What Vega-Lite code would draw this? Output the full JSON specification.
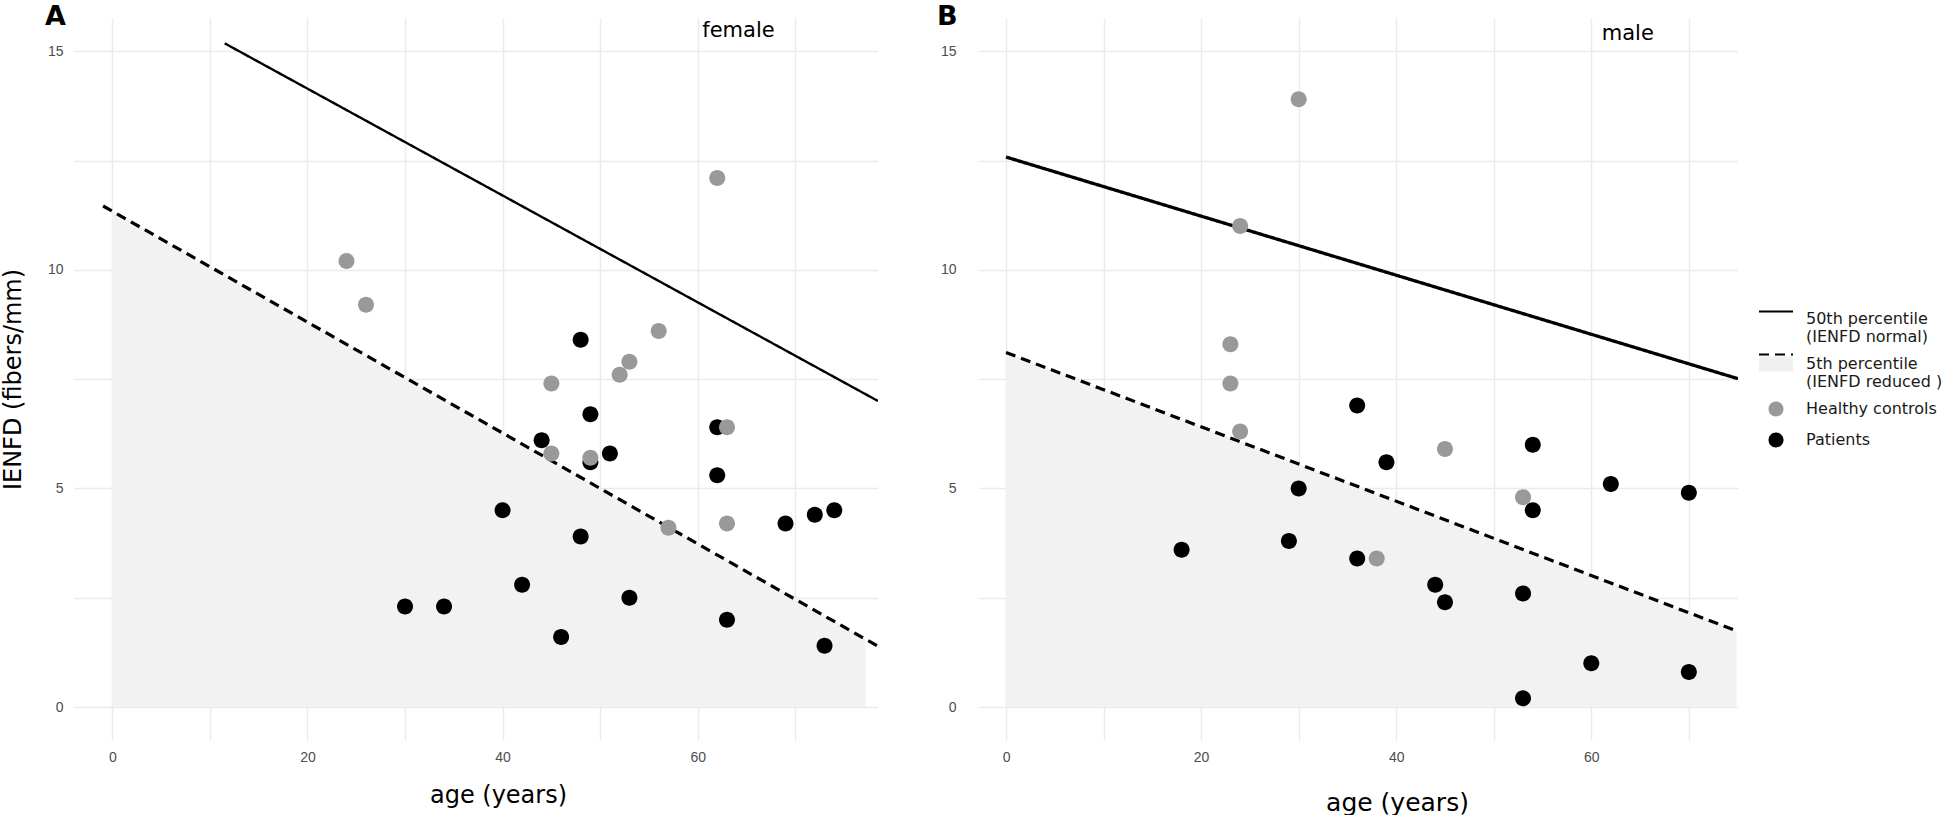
{
  "$schema": "https://vega.github.io/schema/vega-lite/v6.json",
  "padding": {"left": 1, "top": 3, "right": 0, "bottom": 0},
  "spacing": 59,
  "background": "white",
  "config": {
    "view": {"stroke": null},
    "axis": {"domain": false, "ticks": false, "tickSize": 0, "grid": true, "gridColor": "#ebebeb", "gridWidth": 1.5, "labelFont": "Liberation Sans", "labelFontSize": 14, "labelColor": "#4d4d4d", "titleFont": "DejaVu Sans", "titleFontWeight": "normal", "titleColor": "#000000", "labelOverlap": false},
    "title": {"font": "DejaVu Sans", "fontSize": 27, "fontWeight": "bold", "color": "#000000", "anchor": "start", "frame": "group", "baseline": "alphabetic", "offset": -13}
  },
  "datasets": {
    "points": [
      {"sex": "female", "group": "Patients", "age": 48, "ienfd": 8.4},
      {"sex": "female", "group": "Patients", "age": 49, "ienfd": 6.7},
      {"sex": "female", "group": "Patients", "age": 44, "ienfd": 6.1},
      {"sex": "female", "group": "Patients", "age": 51, "ienfd": 5.8},
      {"sex": "female", "group": "Patients", "age": 49, "ienfd": 5.6},
      {"sex": "female", "group": "Patients", "age": 62, "ienfd": 6.4},
      {"sex": "female", "group": "Patients", "age": 62, "ienfd": 5.3},
      {"sex": "female", "group": "Patients", "age": 40, "ienfd": 4.5},
      {"sex": "female", "group": "Patients", "age": 48, "ienfd": 3.9},
      {"sex": "female", "group": "Patients", "age": 42, "ienfd": 2.8},
      {"sex": "female", "group": "Patients", "age": 30, "ienfd": 2.3},
      {"sex": "female", "group": "Patients", "age": 34, "ienfd": 2.3},
      {"sex": "female", "group": "Patients", "age": 46, "ienfd": 1.6},
      {"sex": "female", "group": "Patients", "age": 53, "ienfd": 2.5},
      {"sex": "female", "group": "Patients", "age": 63, "ienfd": 2.0},
      {"sex": "female", "group": "Patients", "age": 69, "ienfd": 4.2},
      {"sex": "female", "group": "Patients", "age": 72, "ienfd": 4.4},
      {"sex": "female", "group": "Patients", "age": 74, "ienfd": 4.5},
      {"sex": "female", "group": "Patients", "age": 73, "ienfd": 1.4},
      {"sex": "female", "group": "Healthy controls", "age": 24, "ienfd": 10.2},
      {"sex": "female", "group": "Healthy controls", "age": 26, "ienfd": 9.2},
      {"sex": "female", "group": "Healthy controls", "age": 62, "ienfd": 12.1},
      {"sex": "female", "group": "Healthy controls", "age": 56, "ienfd": 8.6},
      {"sex": "female", "group": "Healthy controls", "age": 53, "ienfd": 7.9},
      {"sex": "female", "group": "Healthy controls", "age": 52, "ienfd": 7.6},
      {"sex": "female", "group": "Healthy controls", "age": 45, "ienfd": 7.4},
      {"sex": "female", "group": "Healthy controls", "age": 45, "ienfd": 5.8},
      {"sex": "female", "group": "Healthy controls", "age": 49, "ienfd": 5.7},
      {"sex": "female", "group": "Healthy controls", "age": 63, "ienfd": 6.4},
      {"sex": "female", "group": "Healthy controls", "age": 63, "ienfd": 4.2},
      {"sex": "female", "group": "Healthy controls", "age": 57, "ienfd": 4.1},
      {"sex": "male", "group": "Patients", "age": 36, "ienfd": 6.9},
      {"sex": "male", "group": "Patients", "age": 39, "ienfd": 5.6},
      {"sex": "male", "group": "Patients", "age": 30, "ienfd": 5.0},
      {"sex": "male", "group": "Patients", "age": 54, "ienfd": 6.0},
      {"sex": "male", "group": "Patients", "age": 54, "ienfd": 4.5},
      {"sex": "male", "group": "Patients", "age": 62, "ienfd": 5.1},
      {"sex": "male", "group": "Patients", "age": 70, "ienfd": 4.9},
      {"sex": "male", "group": "Patients", "age": 18, "ienfd": 3.6},
      {"sex": "male", "group": "Patients", "age": 29, "ienfd": 3.8},
      {"sex": "male", "group": "Patients", "age": 36, "ienfd": 3.4},
      {"sex": "male", "group": "Patients", "age": 44, "ienfd": 2.8},
      {"sex": "male", "group": "Patients", "age": 45, "ienfd": 2.4},
      {"sex": "male", "group": "Patients", "age": 53, "ienfd": 2.6},
      {"sex": "male", "group": "Patients", "age": 60, "ienfd": 1.0},
      {"sex": "male", "group": "Patients", "age": 70, "ienfd": 0.8},
      {"sex": "male", "group": "Patients", "age": 53, "ienfd": 0.2},
      {"sex": "male", "group": "Healthy controls", "age": 30, "ienfd": 13.9},
      {"sex": "male", "group": "Healthy controls", "age": 24, "ienfd": 11.0},
      {"sex": "male", "group": "Healthy controls", "age": 23, "ienfd": 8.3},
      {"sex": "male", "group": "Healthy controls", "age": 23, "ienfd": 7.4},
      {"sex": "male", "group": "Healthy controls", "age": 24, "ienfd": 6.3},
      {"sex": "male", "group": "Healthy controls", "age": 45, "ienfd": 5.9},
      {"sex": "male", "group": "Healthy controls", "age": 53, "ienfd": 4.8},
      {"sex": "male", "group": "Healthy controls", "age": 38, "ienfd": 3.4}
    ],
    "lines": [
      {"sex": "female", "pct": "p50", "age": 11.52, "ienfd": 15.18},
      {"sex": "female", "pct": "p50", "age": 78.48, "ienfd": 7.0},
      {"sex": "female", "pct": "p5", "age": -0.95, "ienfd": 11.46},
      {"sex": "female", "pct": "p5", "age": 78.48, "ienfd": 1.39},
      {"sex": "male", "pct": "p50", "age": 0, "ienfd": 12.58},
      {"sex": "male", "pct": "p50", "age": 75.04, "ienfd": 7.51},
      {"sex": "male", "pct": "p5", "age": 0, "ienfd": 8.11},
      {"sex": "male", "pct": "p5", "age": 75.04, "ienfd": 1.73}
    ],
    "fill": [
      {"sex": "female", "age": 0, "ienfd": 11.34},
      {"sex": "female", "age": 77.2, "ienfd": 1.55},
      {"sex": "male", "age": 0, "ienfd": 8.11},
      {"sex": "male", "age": 74.9, "ienfd": 1.74}
    ],
    "labels": [
      {"sex": "female", "age": 64.18, "ienfd": 15.47, "text": "female"},
      {"sex": "male", "age": 63.74, "ienfd": 15.39, "text": "male"}
    ]
  },
  "resolve": {"scale": {"fill": "independent", "shape": "independent", "strokeDash": "independent"}, "legend": {"fill": "independent", "shape": "independent", "strokeDash": "independent"}},
  "hconcat": [
    {
      "width": 804,
      "height": 722,
      "title": {"text": "A", "dx": -29},
      "encoding": {
        "x": {"field": "age", "type": "quantitative", "scale": {"domain": [-3.93, 78.48], "nice": false, "zero": false},
              "axis": {"values": [0, 10, 20, 30, 40, 50, 60, 70], "labelExpr": "datum.value % 20 === 0 ? datum.label : ''", "labelPadding": 10, "title": "age (years)", "titleFontSize": 24, "titlePadding": 19, "titleX": 424, "titleAlign": "center"}},
        "y": {"field": "ienfd", "type": "quantitative", "scale": {"domain": [-0.753, 15.76], "nice": false, "zero": false},
              "axis": {"values": [0, 2.5, 5, 7.5, 10, 12.5, 15], "labelExpr": "datum.value % 5 === 0 ? datum.label : ''", "labelPadding": 11, "title": "IENFD (fibers/mm)", "titleFontSize": 24, "titlePadding": 22}}
      },
      "layer": [
        {"data": {"name": "fill"}, "transform": [{"filter": "datum.sex == 'female'"}],
         "mark": {"type": "area", "color": "#f2f2f2", "clip": true},
         "encoding": {"y2": {"datum": 0}}},
        {"data": {"name": "lines"}, "transform": [{"filter": "datum.sex == 'female' && datum.pct == 'p50'"}],
         "mark": {"type": "line", "color": "#000000", "strokeWidth": 2.4, "clip": true},
         "encoding": {"strokeDash": {"field": "pct", "type": "nominal", "scale": {"domain": ["p50", "p5"], "range": [[1, 0], [10, 6]]}, "legend": null}}},
        {"data": {"name": "lines"}, "transform": [{"filter": "datum.sex == 'female' && datum.pct == 'p5'"}],
         "mark": {"type": "line", "color": "#000000", "strokeWidth": 3.2, "clip": true},
         "encoding": {"strokeDash": {"field": "pct", "type": "nominal", "scale": {"domain": ["p50", "p5"], "range": [[1, 0], [10, 6]]}, "legend": null}}},
        {"data": {"name": "points"}, "transform": [{"filter": "datum.sex == 'female'"}],
         "mark": {"type": "point", "filled": true, "opacity": 1, "size": 1316},
         "encoding": {
           "fill": {"field": "group", "type": "nominal", "scale": {"domain": ["p50", "p5", "Healthy controls", "Patients"], "range": ["#ffffff", "#f0f0f0", "#999999", "#000000"]}, "legend": null},
           "shape": {"field": "group", "type": "nominal", "scale": {"domain": ["p50", "p5", "Healthy controls", "Patients"], "range": ["M-1,-0.441L1,-0.441L1,0.441L-1,0.441Z", "M-1,-0.441L1,-0.441L1,0.441L-1,0.441Z", "M0.441,0A0.441,0.441,0,1,1,-0.441,0A0.441,0.441,0,1,1,0.441,0Z", "M0.441,0A0.441,0.441,0,1,1,-0.441,0A0.441,0.441,0,1,1,0.441,0Z"]}, "legend": null}
         }},
        {"data": {"name": "labels"}, "transform": [{"filter": "datum.sex == 'female'"}],
         "mark": {"type": "text", "font": "DejaVu Sans", "fontSize": 21, "color": "#000000", "align": "center", "baseline": "middle"},
         "encoding": {"text": {"field": "text", "type": "nominal"}}}
      ]
    },
    {
      "width": 759,
      "height": 722,
      "title": {"text": "B", "dx": -42},
      "encoding": {
        "x": {"field": "age", "type": "quantitative", "scale": {"domain": [-2.77, 75.04], "nice": false, "zero": false},
              "axis": {"values": [0, 10, 20, 30, 40, 50, 60, 70], "labelExpr": "datum.value % 20 === 0 ? datum.label : ''", "labelPadding": 10, "title": "age (years)", "titleFontSize": 25, "titlePadding": 26, "titleX": 418, "titleAlign": "center"}},
        "y": {"field": "ienfd", "type": "quantitative", "scale": {"domain": [-0.753, 15.76], "nice": false, "zero": false},
              "axis": {"values": [0, 2.5, 5, 7.5, 10, 12.5, 15], "labelExpr": "datum.value % 5 === 0 ? datum.label : ''", "labelPadding": 23, "title": null}}
      },
      "layer": [
        {"data": {"name": "fill"}, "transform": [{"filter": "datum.sex == 'male'"}],
         "mark": {"type": "area", "color": "#f2f2f2", "clip": true},
         "encoding": {"y2": {"datum": 0}}},
        {"data": {"name": "lines"}, "transform": [{"filter": "datum.sex == 'male' && datum.pct == 'p50'"}],
         "mark": {"type": "line", "color": "#000000", "strokeWidth": 3.3, "clip": true},
         "encoding": {"strokeDash": {"field": "pct", "type": "nominal", "scale": {"domain": ["p50", "p5"], "range": [[1, 0], [10, 6]]},
           "legend": {"orient": "none", "legendX": 779, "legendY": 275.5, "title": null, "padding": 0, "symbolType": "stroke", "symbolSize": 1156, "symbolStrokeWidth": 2, "symbolStrokeColor": "#000000", "labelExpr": "''", "labelFontSize": 1, "rowPadding": 21, "zindex": 2}}}},
        {"data": {"name": "lines"}, "transform": [{"filter": "datum.sex == 'male' && datum.pct == 'p5'"}],
         "mark": {"type": "line", "color": "#000000", "strokeWidth": 3.2, "clip": true},
         "encoding": {"strokeDash": {"field": "pct", "type": "nominal", "scale": {"domain": ["p50", "p5"], "range": [[1, 0], [10, 6]]},
           "legend": {"orient": "none", "legendX": 779, "legendY": 275.5, "title": null, "padding": 0, "symbolType": "stroke", "symbolSize": 1156, "symbolStrokeWidth": 2, "symbolStrokeColor": "#000000", "labelExpr": "''", "labelFontSize": 1, "rowPadding": 21, "zindex": 2}}}},
        {"data": {"name": "points"}, "transform": [{"filter": "datum.sex == 'male'"}],
         "mark": {"type": "point", "filled": true, "opacity": 1, "size": 1316},
         "encoding": {
           "fill": {"field": "group", "type": "nominal", "scale": {"domain": ["p50", "p5", "Healthy controls", "Patients"], "range": ["#ffffff", "#f0f0f0", "#999999", "#000000"]},
             "legend": {"orient": "none", "legendX": 779, "legendY": 283, "title": null, "padding": 0, "symbolSize": 1156, "symbolStrokeWidth": 2, "labelFont": "DejaVu Sans", "labelFontSize": 16, "labelColor": "#1a1a1a", "labelLimit": 400, "labelOffset": 12, "rowPadding": 1, "zindex": 1,
               "labelExpr": "datum.value == 'p50' ? ['50th percentile', '(IENFD normal)'] : datum.value == 'p5' ? ['5th percentile', '(IENFD reduced )'] : datum.label"}},
           "shape": {"field": "group", "type": "nominal", "scale": {"domain": ["p50", "p5", "Healthy controls", "Patients"], "range": ["M-1,-0.441L1,-0.441L1,0.441L-1,0.441Z", "M-1,-0.441L1,-0.441L1,0.441L-1,0.441Z", "M0.441,0A0.441,0.441,0,1,1,-0.441,0A0.441,0.441,0,1,1,0.441,0Z", "M0.441,0A0.441,0.441,0,1,1,-0.441,0A0.441,0.441,0,1,1,0.441,0Z"]},
             "legend": {"orient": "none", "legendX": 779, "legendY": 283, "title": null, "padding": 0, "symbolSize": 1156, "symbolStrokeWidth": 2, "labelFont": "DejaVu Sans", "labelFontSize": 16, "labelColor": "#1a1a1a", "labelLimit": 400, "labelOffset": 12, "rowPadding": 1, "zindex": 1,
               "labelExpr": "datum.value == 'p50' ? ['50th percentile', '(IENFD normal)'] : datum.value == 'p5' ? ['5th percentile', '(IENFD reduced )'] : datum.label"}}
         }},
        {"data": {"name": "labels"}, "transform": [{"filter": "datum.sex == 'male'"}],
         "mark": {"type": "text", "font": "DejaVu Sans", "fontSize": 21, "color": "#000000", "align": "center", "baseline": "middle"},
         "encoding": {"text": {"field": "text", "type": "nominal"}}}
      ]
    }
  ]
}
